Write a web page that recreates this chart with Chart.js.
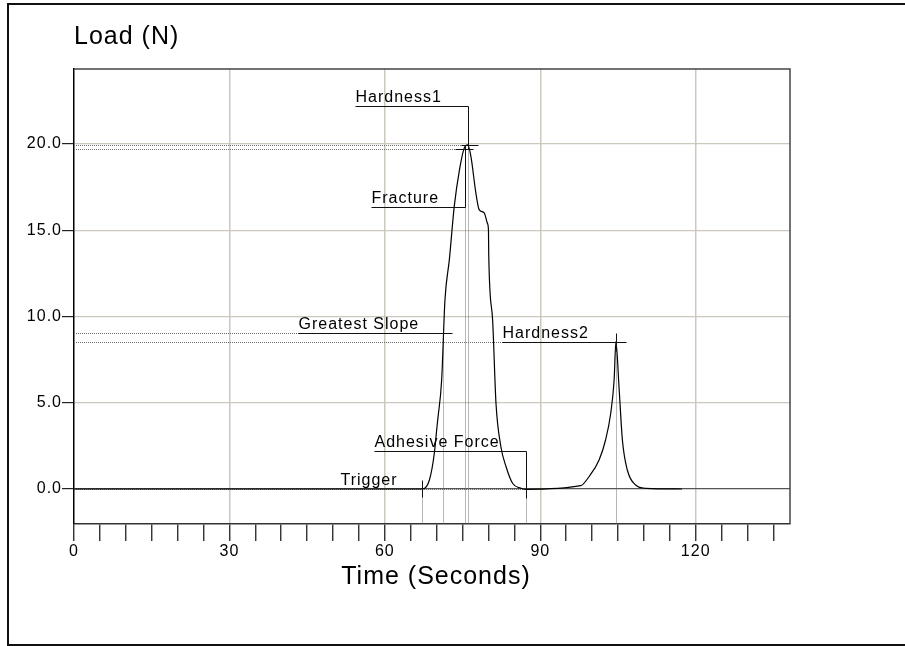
<!DOCTYPE html>
<html>
<head>
<meta charset="utf-8">
<script src="https://cdn.jsdelivr.net/npm/chart.js@4"></script>
<style>
  body { margin: 0; background: #fff; }
  canvas { display: block; }
</style>
</head>
<body>
<canvas id="textureChart" width="905" height="646"></canvas>
<script>
// test curve
const timeSec = [0, 30, 60, 67.3, 68.6, 69.55, 70.0, 70.2, 70.96, 71.6, 72.45, 73.4, 74.4, 75.3, 76.0,
  76.6, 77.6, 78.2, 79.2, 79.8, 80.0, 80.05, 80.8, 81.45, 82.4, 83.4, 84.65, 86.25, 87.2,
  97.8, 99.4, 101.35, 102.6, 103.6, 104.25, 104.6, 105.2, 105.85, 106.8, 108.4, 110.35, 117.35];
const loadN = [0, 0, 0, 0, 0.52, 2.07, 3.42, 4.0, 6.3, 10.96, 13.3, 16.4, 18.5, 19.75, 19.95,
  19.3, 17.1, 16.2, 16.0, 15.4, 15.0, 13.6, 9.8, 4.97, 2.45, 1.29, 0.33, 0.04, -0.02,
  0.19, 0.71, 1.68, 2.84, 4.39, 6.3, 8.54, 5.9, 2.84, 1.1, 0.23, 0.04, 0];

const markerNames = ["Trigger", "Greatest Slope", "Fracture", "Hardness1", "Hardness2", "Adhesive Force"];
const markerTimes = [67.25, 71.15, 75.4, 76.0, 104.6, 87.3];
const markerLoads = [0.0, 9.03, 19.7, 19.95, 8.54, 0.0];

const xTickLabels = [0, 30, 60, 90, 120];

const FONT = "Arial, 'Liberation Sans', sans-serif";
const GRID = "#ccc8bd";

// caption placement for each marker, in axis units
const captionLayout = {
  "Trigger":        { from: 51.25, level: 0, tick: [-9, 8] },
  "Greatest Slope": { from: 43.2, level: 9.03, to: 73.0, tick: [-5, 7] },
  "Fracture":       { from: 57.4, level: 16.37, cross: [-10, 8] },
  "Hardness1":      { from: 54.3, level: 22.2, cross: [-7, 10] },
  "Hardness2":      { from: 82.7, level: 8.54, to: 106.5, tick: [-9, 9] },
  "Adhesive Force": { from: 58.0, level: 2.2, drop: -0.55 },
};

function crisp(v) { return Math.round(v) + 0.5; }

const markersPlugin = {
  id: "markers",
  beforeDraw(chart) {
    const ctx = chart.ctx;
    ctx.letterSpacing = "1px";
    ctx.save();
    ctx.strokeStyle = "#111";
    ctx.lineWidth = 2;
    ctx.beginPath();
    ctx.moveTo(906, 4);
    ctx.lineTo(8, 4);
    ctx.lineTo(8, 645);
    ctx.lineTo(906, 645);
    ctx.stroke();
    ctx.restore();
  },
  beforeDatasetsDraw(chart) {
    const { ctx, chartArea, scales: { x, y } } = chart;
    ctx.save();
    ctx.strokeStyle = "#6f6f6f";
    ctx.lineWidth = 1;
    ctx.setLineDash([1, 1]);
    markerNames.forEach((name, i) => {
      const px = crisp(x.getPixelForValue(markerTimes[i]));
      const py = crisp(y.getPixelForValue(markerLoads[i]));
      ctx.beginPath();
      ctx.moveTo(chartArea.left, py);
      ctx.lineTo(px, py);
      ctx.moveTo(px, py);
      ctx.lineTo(px, chartArea.bottom);
      ctx.stroke();
    });
    ctx.restore();
  },
  afterDatasetsDraw(chart) {
    const { ctx, scales: { x, y } } = chart;
    ctx.save();
    ctx.strokeStyle = "#111";
    ctx.fillStyle = "#000";
    ctx.lineWidth = 1;
    ctx.font = "16px " + FONT;
    ctx.textBaseline = "alphabetic";
    ctx.textAlign = "left";
    markerNames.forEach((name, i) => {
      const c = captionLayout[name];
      const px = crisp(x.getPixelForValue(markerTimes[i]));
      const py = crisp(y.getPixelForValue(markerLoads[i]));
      const sx = crisp(x.getPixelForValue(c.from));
      const ly = crisp(y.getPixelForValue(c.level));
      ctx.beginPath();
      if (c.to !== undefined) {
        ctx.moveTo(sx, ly);
        ctx.lineTo(crisp(x.getPixelForValue(c.to)), ly);
      } else if (c.level !== markerLoads[i]) {
        ctx.moveTo(sx, ly);
        ctx.lineTo(px, ly);
        const endY = c.drop !== undefined ? y.getPixelForValue(c.drop) : py;
        ctx.lineTo(px, crisp(endY));
      }
      if (c.tick) {
        ctx.moveTo(px, py + c.tick[0]);
        ctx.lineTo(px, py + c.tick[1]);
      }
      if (c.cross) {
        ctx.moveTo(px + c.cross[0], py);
        ctx.lineTo(px + c.cross[1], py);
        ctx.moveTo(px, py - 4);
        ctx.lineTo(px, py + 4);
      }
      ctx.stroke();
      ctx.fillText(name, sx, ly - 5);
    });
    ctx.restore();
  },
  afterDraw(chart) {
    const { ctx, chartArea } = chart;
    ctx.save();
    ctx.strokeStyle = "#444";
    ctx.lineWidth = 1.5;
    ctx.beginPath();
    ctx.moveTo(chartArea.left, chartArea.top);
    ctx.lineTo(chartArea.right, chartArea.top);
    ctx.lineTo(chartArea.right, chartArea.bottom);
    ctx.stroke();

    ctx.fillStyle = "#000";
    ctx.font = "25px " + FONT;
    ctx.textBaseline = "alphabetic";
    ctx.textAlign = "left";
    ctx.fillText("Load (N)", 74, 44);
    ctx.textAlign = "center";
    ctx.fillText("Time (Seconds)", (chartArea.left + chartArea.right) / 2 + 4, 584);
    ctx.restore();
  },
};

const textureData = {
  datasets: [
    {
      label: "Load",
      data: timeSec.map((t, i) => ({ x: t, y: loadN[i] })),
      borderColor: "#000",
      borderWidth: 1.2,
      pointRadius: 0,
      cubicInterpolationMode: "monotone",
      fill: false,
    },
  ],
};

const textureOptions = {
  responsive: false,
  animation: false,
  layout: { padding: { top: 69, right: 115, left: 0, bottom: 0 } },
  plugins: {
    legend: { display: false },
    tooltip: { enabled: false },
  },
  scales: {
    x: {
      type: "linear",
      min: 0,
      max: 138.2,
      afterFit: (scale) => { scale.height = 122; },
      border: { color: "#333", width: 1.5 },
      grid: {
        color: (c) => (c.tick && c.tick.value > 0 && xTickLabels.includes(c.tick.value) ? GRID : "rgba(0,0,0,0)"),
        lineWidth: 1.5,
        tickColor: "#222",
        tickWidth: 1.3,
        tickLength: 17,
      },
      ticks: {
        stepSize: 5,
        includeBounds: false,
        autoSkip: false,
        maxRotation: 0,
        padding: 1,
        color: "#000",
        font: { family: FONT, size: 16 },
        callback: (v) => (xTickLabels.includes(v) ? String(v) : ""),
      },
    },
    y: {
      min: -2.03,
      max: 24.35,
      afterFit: (scale) => { scale.width = 74; },
      border: { color: "#000", width: 1.5 },
      grid: {
        color: (c) => (c.tick && c.tick.value === 0 ? "#555" : GRID),
        lineWidth: 1.2,
        tickColor: "#222",
        tickLength: 12,
      },
      ticks: {
        stepSize: 5,
        includeBounds: false,
        padding: 0,
        color: "#000",
        font: { family: FONT, size: 16 },
        callback: (v) => v.toFixed(1),
      },
    },
  },
};

const textureChart = new Chart(document.getElementById("textureChart"), {
  type: "line",
  data: textureData,
  options: textureOptions,
  plugins: [markersPlugin],
});
</script>
</body>
</html>
